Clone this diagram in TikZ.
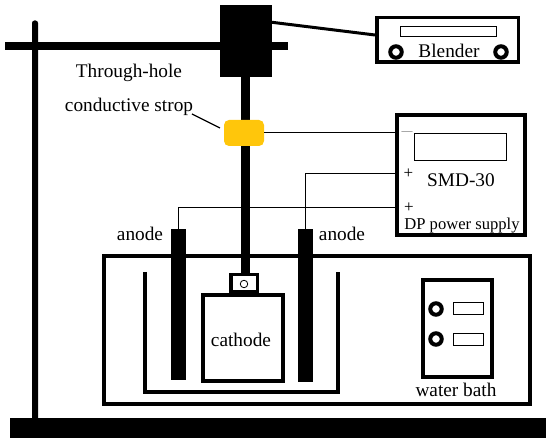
\documentclass[tikz,border=0pt]{standalone}
\usepackage{fontspec}
\setmainfont{Liberation Serif}
\usepackage{tikz}

\definecolor{stropyellow}{HTML}{FFC60B}

\tikzset{
    lbl/.style={font=\fontsize{19.3}{22}\selectfont, inner sep=0pt},
    smalllbl/.style={font=\fontsize{16.6}{20}\selectfont, inner sep=0pt},
    signlbl/.style={font=\fontsize{17}{19}\selectfont, inner sep=0pt},
    solidbar/.style={rectangle, fill=black, inner sep=0pt, outer sep=0pt},
    framebox/.style={rectangle, draw=black, line width=4pt, fill=white, inner sep=0pt, outer sep=0pt},
    screenbox/.style={rectangle, draw=black, line width=1pt, fill=white, inner sep=0pt, outer sep=0pt},
    knob/.style={circle, draw=black, line width=4pt, fill=white, minimum size=11.5pt, inner sep=0pt},
    wire/.style={draw=black, line width=1pt}
}

\begin{document}
\begin{tikzpicture}[x=1pt, y=-1pt]
    \useasboundingbox (0,0) rectangle (550,443);

    % Base and stand
    \node[solidbar, minimum width=536pt, minimum height=20pt] (base) at (278,428) {};
    \node[solidbar, rounded corners=2.5pt, minimum width=6pt, minimum height=401pt] (stand) at (35,221) {};
    \node[solidbar, minimum width=283pt, minimum height=8pt] (bar) at (146.5,46) {};

    % Wires to the power supply
    \node[framebox, minimum width=128pt, minimum height=120pt] (supply) at (461,175) {};
    \node[signlbl] (plusone) at (408.5,174) {+};
    \node[signlbl] (plustwo) at (409,207.5) {+};
    \node[solidbar, minimum width=15pt, minimum height=151pt] (anodeleft) at (178.5,304.5) {};
    \node[solidbar, minimum width=15pt, minimum height=153pt] (anoderight) at (305.5,305.5) {};
    \draw[wire] (supply.west |- plusone) -| (anoderight.north);
    \draw[wire] (supply.west |- plustwo) -| (anodeleft.north);

    % Water bath
    \node[framebox, fill=none, minimum width=426pt, minimum height=148pt] (bath) at (317,330) {};
    \node[framebox, minimum width=69pt, minimum height=97pt] (panel) at (457.5,328.5) {};
    \node[knob] (knobone) at (436,309) {};
    \node[knob] (knobtwo) at (436,339) {};
    \node[screenbox, minimum width=30pt, minimum height=12pt] (screenone) at (468,309) {};
    \node[screenbox, minimum width=30pt, minimum height=12pt] (screentwo) at (468,340) {};
    \node[lbl] (bathlabel) at (456,390) {water bath};

    % Inner vessel
    \draw[line width=4pt] (145,272) -- (145,392.5) -- (338,392.5) -- (338,272);

    % Cathode
    \node[solidbar, minimum width=9pt, minimum height=196pt] (shaft) at (245.5,175) {};
    \node[framebox, minimum width=80pt, minimum height=86pt] (cathode) at (243,338) {};
    \node[lbl] (cathodelabel) at (241,339.5) {cathode};
    \node[framebox, line width=3.5pt, minimum width=26.5pt, minimum height=17pt] (clamp) at (244,283) {};
    \node[circle, draw=black, line width=0.8pt, fill=white, minimum size=7.5pt, inner sep=0pt] (hole) at (244,284) {};

    % Head and blender
    \node[solidbar, minimum width=52pt, minimum height=72pt] (head) at (246,41) {};
    \node[solidbar, minimum width=16pt, minimum height=8pt] (barend) at (280,46) {};
    \node[framebox, line width=3.5pt, minimum width=141.5pt, minimum height=44.5pt] (blender) at (447.5,40) {};
    \node[screenbox, minimum width=96pt, minimum height=10pt] (blenderscreen) at (448,32) {};
    \node[knob] (blenderknobleft) at (396,52) {};
    \node[knob] (blenderknobright) at (501,52) {};
    \node[lbl] (blenderlabel) at (449,51) {Blender};
    \coordinate (headport) at (272,22.3);
    \coordinate (blenderport) at (375,35);
    \draw[line width=3pt] (headport) -- (blenderport);

    % Conductive strop
    \node[rectangle, rounded corners=5pt, fill=stropyellow, minimum width=40pt, minimum height=26pt, inner sep=0pt, outer sep=0pt] (strop) at (244,133) {};
    \draw[wire] (strop.east) -- (strop.east -| supply.west);
    \node[lbl] (throughlabel) at (129,72.5) {Through-hole};
    \node[lbl] (stroplabel) at (129,106.5) {conductive strop};
    \coordinate (stropfrom) at (192,114);
    \coordinate (stropto) at (220,128);
    \draw[line width=1.3pt] (stropfrom) -- (stropto);

    % Anode labels
    \node[lbl] (anodelabelleft) at (140,234) {anode};
    \node[lbl] (anodelabelright) at (342,234) {anode};

    % Power supply face
    \node[screenbox, minimum width=92pt, minimum height=27pt] (supplyscreen) at (460,147.5) {};
    \node[lbl, font=\fontsize{11}{13}\selectfont, black!60] (minuslabel) at (407,133) {---};
    \node[lbl] (supplylabel) at (461,180) {SMD-30};
    \node[smalllbl] (dplabel) at (462,225.5) {DP power supply};

\end{tikzpicture}
\end{document}
